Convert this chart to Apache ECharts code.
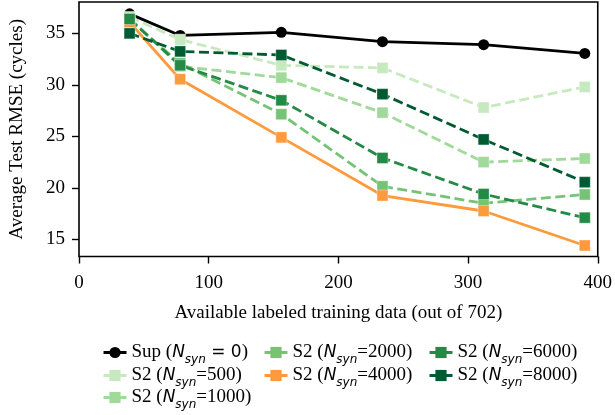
<!DOCTYPE html>
<html>
<head>
<meta charset="utf-8">
<script src="https://cdn.jsdelivr.net/npm/echarts@6/dist/echarts.min.js"></script>
<style>html,body{margin:0;padding:0;background:#fff}#c{width:615px;height:415px}</style>
</head>
<body>
<div id="c"></div>
<script>
const xValues = [39, 78, 156, 234, 312, 390];
const sup   = [36.9, 34.8, 35.1, 34.2, 33.9, 33.05];
const n500  = [36.6, 34.4, 31.9, 31.65, 27.8, 29.8];
const n1000 = [36.5, 31.8, 30.7, 27.3, 22.5, 22.85];
const n2000 = [36.3, 32.1, 27.15, 20.15, 18.5, 19.35];
const n4000 = [36.1, 30.55, 24.9, 19.25, 17.75, 14.4];
const n6000 = [36.4, 31.9, 28.5, 22.9, 19.4, 17.1];
const n8000 = [35.0, 33.25, 32.9, 29.1, 24.7, 20.55];
const yTicks = [15, 20, 25, 30, 35];
const xTicks = [0, 100, 200, 300, 400];

const seriesDefs = [
  {name: 'Sup', nsyn: '0', data: sup, color: '#000000', dashed: false, symbol: 'circle'},
  {name: 'S2 500', nsyn: '500', data: n500, color: '#c7e9c0', dashed: true, symbol: 'rect'},
  {name: 'S2 1000', nsyn: '1000', data: n1000, color: '#a1d99b', dashed: true, symbol: 'rect'},
  {name: 'S2 2000', nsyn: '2000', data: n2000, color: '#74c476', dashed: true, symbol: 'rect'},
  {name: 'S2 4000', nsyn: '4000', data: n4000, color: '#fd9a3c', dashed: false, symbol: 'rect'},
  {name: 'S2 6000', nsyn: '6000', data: n6000, color: '#238b45', dashed: true, symbol: 'rect'},
  {name: 'S2 8000', nsyn: '8000', data: n8000, color: '#005a32', dashed: true, symbol: 'rect'}
];
// legend slot per series: [left, rowCenterY]
const legendSlots = [[102, 354], [102, 377], [102, 399], [263, 354], [263, 377], [428, 354], [428, 377]];

const FS = 19;
const serif = 'Liberation Serif';
const rich = {
  r: {fontFamily: serif, fontSize: FS, color: '#000', lineHeight: 22},
  n: {fontFamily: 'DejaVu Sans', fontStyle: 'italic', fontSize: FS - 2, color: '#000', lineHeight: 22},
  s: {fontFamily: 'DejaVu Sans', fontStyle: 'italic', fontSize: 12, color: '#000', lineHeight: 12, verticalAlign: 'bottom', padding: [0, 0, -2, 0]},
  d: {fontFamily: 'DejaVu Sans', fontSize: FS - 2, color: '#000', lineHeight: 22}
};
function legendLabel(name) {
  const d = seriesDefs.find(s => s.name === name);
  if (d.name === 'Sup') return '{r|Sup (}{n|N}{s|syn}{d| = 0}{r|)}';
  return '{r|S2 (}{n|N}{s|syn}{r|=' + d.nsyn + ')}';
}
const legends = seriesDefs.map((d, i) => ({
  data: [{name: d.name, itemStyle: {borderWidth: 0, color: d.color}, lineStyle: {type: 'solid', width: 3, color: d.color}}],
  orient: 'vertical', left: legendSlots[i][0], top: legendSlots[i][1] - 11,
  itemWidth: 23, itemHeight: 14, padding: 0,
  textStyle: {rich: rich},
  formatter: legendLabel,
  selectedMode: false
}));

const chart = echarts.init(document.getElementById('c'), null, {renderer: 'canvas'});
chart.setOption({
  animation: false,
  backgroundColor: '#fff',
  grid: {left: 77.5, right: 17, top: 2, bottom: 158.5, show: true, borderColor: '#000', borderWidth: 1.6, backgroundColor: 'transparent'},
  legend: legends,
  xAxis: {
    type: 'value', min: 0, max: 400, interval: 100,
    name: 'Available labeled training data (out of 702)', nameLocation: 'middle', nameGap: 47,
    nameTextStyle: {fontFamily: serif, fontSize: 19, color: '#000'},
    axisLine: {show: false},
    axisTick: {show: true, inside: false, length: 7, lineStyle: {color: '#000', width: 1.4}, customValues: xTicks},
    axisLabel: {fontFamily: serif, fontSize: 19, color: '#000', margin: 17, customValues: xTicks},
    splitLine: {show: false}
  },
  yAxis: {
    type: 'value', min: 13.33, max: 38.05,
    name: 'Average Test RMSE (cycles)', nameLocation: 'middle', nameGap: 52, nameRotate: 90,
    nameTextStyle: {fontFamily: serif, fontSize: 19, color: '#000'},
    axisLine: {show: false},
    axisTick: {show: true, inside: false, length: 7, lineStyle: {color: '#000', width: 1.4}, customValues: yTicks},
    axisLabel: {fontFamily: serif, fontSize: 19, color: '#000', margin: 14, customValues: yTicks},
    splitLine: {show: false}
  },
  series: seriesDefs.map(d => ({
    name: d.name, type: 'line',
    data: xValues.map((x, i) => [x, d.data[i]]),
    symbol: d.symbol, symbolSize: 11,
    showSymbol: true,
    lineStyle: {color: d.color, width: 2.8, type: d.dashed ? [10, 4.5] : 'solid'},
    itemStyle: {color: d.color, borderColor: d.symbol === 'circle' ? d.color : 'rgba(255,255,255,0.6)', borderWidth: d.symbol === 'circle' ? 0 : 0.6},
    emphasis: {disabled: true},
    z: 2
  }))
});
</script>
</body>
</html>
